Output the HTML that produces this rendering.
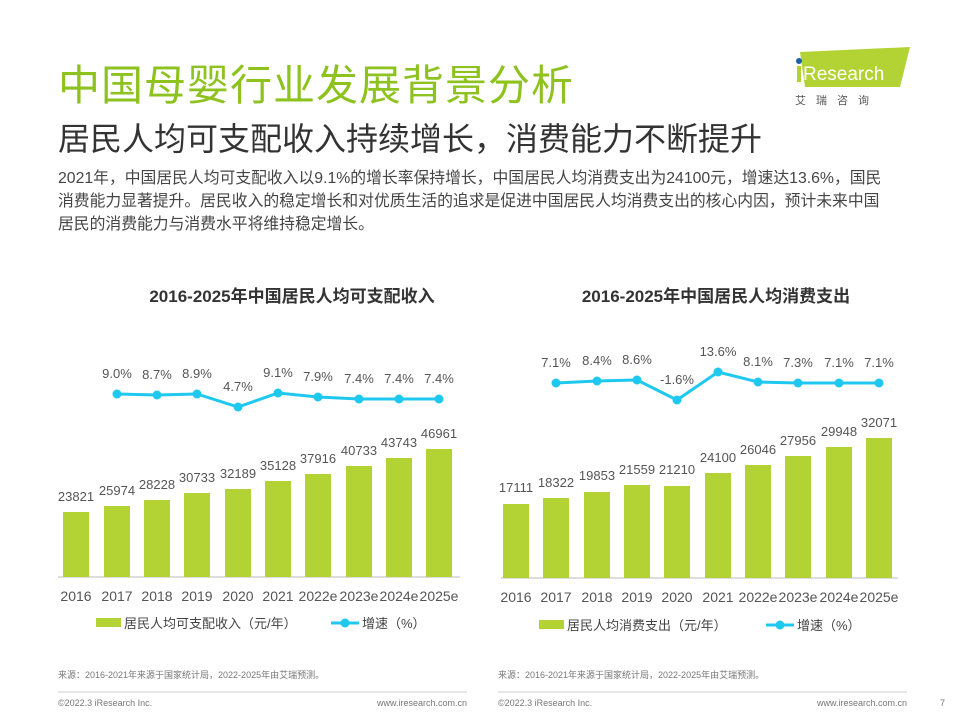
<!DOCTYPE html>
<html><head><meta charset="utf-8"><style>
body{margin:0;width:960px;height:720px;background:#fff;font-family:"Liberation Sans","Noto Sans CJK SC",sans-serif;overflow:hidden;position:relative}
.t1{position:absolute;left:58px;top:52px;font-size:42px;color:#8dc21f;letter-spacing:1px}
.t2{position:absolute;left:58px;top:114px;font-size:32px;color:#333}
.p{position:absolute;left:58px;top:167px;width:835px;font-size:15.8px;line-height:23px;color:#444}
</style></head><body>
<div class="t1">中国母婴行业发展背景分析</div>
<div class="t2">居民人均可支配收入持续增长，消费能力不断提升</div>
<div class="p">2021年，中国居民人均可支配收入以9.1%的增长率保持增长，中国居民人均消费支出为24100元，增速达13.6%，国民消费能力显著提升。居民收入的稳定增长和对优质生活的追求是促进中国居民人均消费支出的核心内因，预计未来中国居民的消费能力与消费水平将维持稳定增长。</div>
<svg width="960" height="720" style="position:absolute;left:0;top:0" font-family="Liberation Sans,Noto Sans CJK SC,sans-serif">
<polygon points="800,52 910,47 900,87 805,87" fill="#b3d334"/>
<circle cx="799" cy="61" r="3" fill="#1f5fa8"/>
<rect x="797" y="66" width="4" height="16" fill="#b3d334"/>
<text x="803" y="80" font-size="19" fill="#fff">Research</text>
<text x="795" y="104" font-size="11" fill="#555" letter-spacing="10">艾瑞咨询</text>
<text x="292" y="302" font-size="17" font-weight="bold" fill="#333" text-anchor="middle">2016-2025年中国居民人均可支配收入</text>
<text x="716" y="302" font-size="17" font-weight="bold" fill="#333" text-anchor="middle">2016-2025年中国居民人均消费支出</text>
<line x1="501" y1="578" x2="898" y2="578" stroke="#bbb"/>
<line x1="58" y1="577" x2="460" y2="577" stroke="#bbb"/>
<g font-size="13" fill="#555" text-anchor="middle">
<g fill="#b3d334">
<rect x="63" y="512" width="26" height="65"/><rect x="104" y="506" width="26" height="71"/><rect x="144" y="500" width="26" height="77"/><rect x="184" y="493" width="26" height="84"/><rect x="225" y="489" width="26" height="88"/><rect x="265" y="481" width="26" height="96"/><rect x="305" y="474" width="26" height="103"/><rect x="346" y="466" width="26" height="111"/><rect x="386" y="458" width="26" height="119"/><rect x="426" y="449" width="26" height="128"/>
</g>
<text x="76" y="501">23821</text><text x="117" y="495">25974</text><text x="157" y="489">28228</text><text x="197" y="482">30733</text><text x="238" y="478">32189</text><text x="278" y="470">35128</text><text x="318" y="463">37916</text><text x="359" y="455">40733</text><text x="399" y="447">43743</text><text x="439" y="438">46961</text>
<polyline points="117,394 157,395 197,394 238,407 278,393 318,397 359,399 399,399 439,399" fill="none" stroke="#1fc8ee" stroke-width="3"/>
<g fill="#1fc8ee"><circle cx="117" cy="394" r="4.5"/><circle cx="157" cy="395" r="4.5"/><circle cx="197" cy="394" r="4.5"/><circle cx="238" cy="407" r="4.5"/><circle cx="278" cy="393" r="4.5"/><circle cx="318" cy="397" r="4.5"/><circle cx="359" cy="399" r="4.5"/><circle cx="399" cy="399" r="4.5"/><circle cx="439" cy="399" r="4.5"/></g>
<text x="117" y="378">9.0%</text><text x="157" y="379">8.7%</text><text x="197" y="378">8.9%</text><text x="238" y="391">4.7%</text><text x="278" y="377">9.1%</text><text x="318" y="381">7.9%</text><text x="359" y="383">7.4%</text><text x="399" y="383">7.4%</text><text x="439" y="383">7.4%</text>
<g font-size="14"><text x="76" y="601">2016</text><text x="117" y="601">2017</text><text x="157" y="601">2018</text><text x="197" y="601">2019</text><text x="238" y="601">2020</text><text x="278" y="601">2021</text><text x="318" y="601">2022e</text><text x="359" y="601">2023e</text><text x="399" y="601">2024e</text><text x="439" y="601">2025e</text></g>
<g fill="#b3d334">
<rect x="503" y="504" width="26" height="74"/><rect x="543" y="498" width="26" height="80"/><rect x="584" y="492" width="26" height="86"/><rect x="624" y="485" width="26" height="93"/><rect x="664" y="486" width="26" height="92"/><rect x="705" y="473" width="26" height="105"/><rect x="745" y="465" width="26" height="113"/><rect x="785" y="456" width="26" height="122"/><rect x="826" y="447" width="26" height="131"/><rect x="866" y="438" width="26" height="140"/>
</g>
<text x="516" y="492">17111</text><text x="556" y="487">18322</text><text x="597" y="480">19853</text><text x="637" y="474">21559</text><text x="677" y="474">21210</text><text x="718" y="462">24100</text><text x="758" y="454">26046</text><text x="798" y="445">27956</text><text x="839" y="436">29948</text><text x="879" y="427">32071</text>
<polyline points="556,383 597,381 637,380 677,400 718,372 758,382 798,383 839,383 879,383" fill="none" stroke="#1fc8ee" stroke-width="3"/>
<g fill="#1fc8ee"><circle cx="556" cy="383" r="4.5"/><circle cx="597" cy="381" r="4.5"/><circle cx="637" cy="380" r="4.5"/><circle cx="677" cy="400" r="4.5"/><circle cx="718" cy="372" r="4.5"/><circle cx="758" cy="382" r="4.5"/><circle cx="798" cy="383" r="4.5"/><circle cx="839" cy="383" r="4.5"/><circle cx="879" cy="383" r="4.5"/></g>
<text x="556" y="367">7.1%</text><text x="597" y="365">8.4%</text><text x="637" y="364">8.6%</text><text x="677" y="384">-1.6%</text><text x="718" y="356">13.6%</text><text x="758" y="366">8.1%</text><text x="798" y="367">7.3%</text><text x="839" y="367">7.1%</text><text x="879" y="367">7.1%</text>
<g font-size="14"><text x="516" y="602">2016</text><text x="556" y="602">2017</text><text x="597" y="602">2018</text><text x="637" y="602">2019</text><text x="677" y="602">2020</text><text x="718" y="602">2021</text><text x="758" y="602">2022e</text><text x="798" y="602">2023e</text><text x="839" y="602">2024e</text><text x="879" y="602">2025e</text></g>
</g>
<rect x="96" y="618" width="25" height="9" fill="#b3d334"/>
<text x="124" y="628" font-size="13" fill="#444">居民人均可支配收入（元/年）</text>
<line x1="331" y1="623" x2="359" y2="623" stroke="#1fc8ee" stroke-width="3"/><circle cx="345" cy="623" r="4.5" fill="#1fc8ee"/>
<text x="362" y="628" font-size="13" fill="#444">增速（%）</text>
<rect x="539" y="620" width="25" height="9" fill="#b3d334"/>
<text x="567" y="630" font-size="13" fill="#444">居民人均消费支出（元/年）</text>
<line x1="766" y1="625" x2="794" y2="625" stroke="#1fc8ee" stroke-width="3"/><circle cx="780" cy="625" r="4.5" fill="#1fc8ee"/>
<text x="797" y="630" font-size="13" fill="#444">增速（%）</text>
<g font-size="9" fill="#777">
<text x="58" y="678">来源：2016-2021年来源于国家统计局，2022-2025年由艾瑞预测。</text>
<text x="498" y="678">来源：2016-2021年来源于国家统计局，2022-2025年由艾瑞预测。</text>
<text x="58" y="706">©2022.3 iResearch Inc.</text>
<text x="467" y="706" text-anchor="end">www.iresearch.com.cn</text>
<text x="498" y="706">©2022.3 iResearch Inc.</text>
<text x="907" y="706" text-anchor="end">www.iresearch.com.cn</text>
<text x="940" y="706">7</text>
</g>
<line x1="58" y1="692" x2="467" y2="692" stroke="#ccc"/>
<line x1="498" y1="692" x2="907" y2="692" stroke="#ccc"/>
</svg>
</body></html>
